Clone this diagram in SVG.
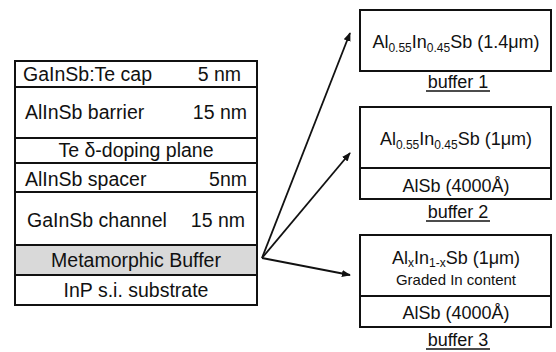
<svg xmlns="http://www.w3.org/2000/svg" width="556" height="352" viewBox="0 0 556 352">
<style>
text{font-family:"Liberation Sans",Arial,sans-serif;font-size:18px;fill:#111}
.L{font-size:19.5px}
.box{fill:#fff;stroke:#111;stroke-width:2}
.ln{stroke:#111;stroke-width:2}
.sub{font-size:12px}
.sm{font-size:15px}
.c{text-anchor:middle}
.r{text-anchor:end}
.u{stroke:#111;stroke-width:1.3}
.con{stroke:#111;stroke-width:1.8;fill:none;marker-end:url(#ah)}
</style>
<defs>
<marker id="ah" viewBox="0 0 10 10" refX="9" refY="5" markerWidth="9" markerHeight="9" markerUnits="userSpaceOnUse" orient="auto">
<path d="M0,1 L10,5 L0,9 z" fill="#111"/>
</marker>
</defs>
<g id="stack">
<rect class="box" x="15" y="61" width="242" height="244"/>
<rect x="15" y="245" width="242" height="30" fill="#d9d9d9" stroke="#111" stroke-width="2"/>
<line class="ln" x1="15" y1="87" x2="257" y2="87"/>
<line class="ln" x1="15" y1="138" x2="257" y2="138"/>
<line class="ln" x1="15" y1="163" x2="257" y2="163"/>
<line class="ln" x1="15" y1="192" x2="257" y2="192"/>
<text class="L" x="23" y="81">GaInSb:Te cap</text><text class="L r" x="241" y="81">5 nm</text>
<text class="L" x="25" y="119">AlInSb barrier</text><text class="L r" x="247" y="119">15 nm</text>
<text class="L c" x="136" y="157">Te δ-doping plane</text>
<text class="L" x="25" y="186">AlInSb spacer</text><text class="L r" x="247" y="186">5nm</text>
<text class="L" x="27" y="227">GaInSb channel</text><text class="L r" x="245" y="227">15 nm</text>
<text class="L c" x="136" y="267">Metamorphic Buffer</text>
<text class="L c" x="136" y="297">InP s.i. substrate</text>
</g>
<g id="buffer1">
<rect class="box" x="360" y="10" width="191" height="61"/>
<text class="c" x="456" y="48">Al<tspan class="sub" dy="4">0.55</tspan><tspan dy="-4">In</tspan><tspan class="sub" dy="4">0.45</tspan><tspan dy="-4">Sb (1.4μm)</tspan></text>
<text class="c" x="458" y="88">buffer 1</text>
<line class="u" x1="426" y1="91" x2="490" y2="91"/>
</g>
<g id="buffer2">
<rect class="box" x="360" y="107" width="191" height="92"/>
<line class="ln" x1="360" y1="168" x2="551" y2="168"/>
<text class="c" x="456" y="145">Al<tspan class="sub" dy="4">0.55</tspan><tspan dy="-4">In</tspan><tspan class="sub" dy="4">0.45</tspan><tspan dy="-4">Sb (1μm)</tspan></text>
<text class="c" x="456" y="192">AlSb (4000Å)</text>
<text class="c" x="458" y="218">buffer 2</text>
<line class="u" x1="426" y1="221" x2="490" y2="221"/>
</g>
<g id="buffer3">
<rect class="box" x="360" y="235" width="191" height="92"/>
<line class="ln" x1="360" y1="296" x2="551" y2="296"/>
<text class="c" x="456" y="264">Al<tspan class="sub" dy="3">x</tspan><tspan dy="-3">In</tspan><tspan class="sub" dy="3">1-x</tspan><tspan dy="-3">Sb (1μm)</tspan></text>
<text class="c sm" x="456" y="285">Graded In content</text>
<text class="c" x="456" y="319">AlSb (4000Å)</text>
<text class="c" x="458" y="346">buffer 3</text>
<line class="u" x1="426" y1="349" x2="490" y2="349"/>
</g>
<g id="connectors">
<line class="con" x1="262" y1="258" x2="350" y2="33"/>
<line class="con" x1="262" y1="258" x2="350" y2="153"/>
<line class="con" x1="262" y1="258" x2="350" y2="275"/>
</g>
</svg>
